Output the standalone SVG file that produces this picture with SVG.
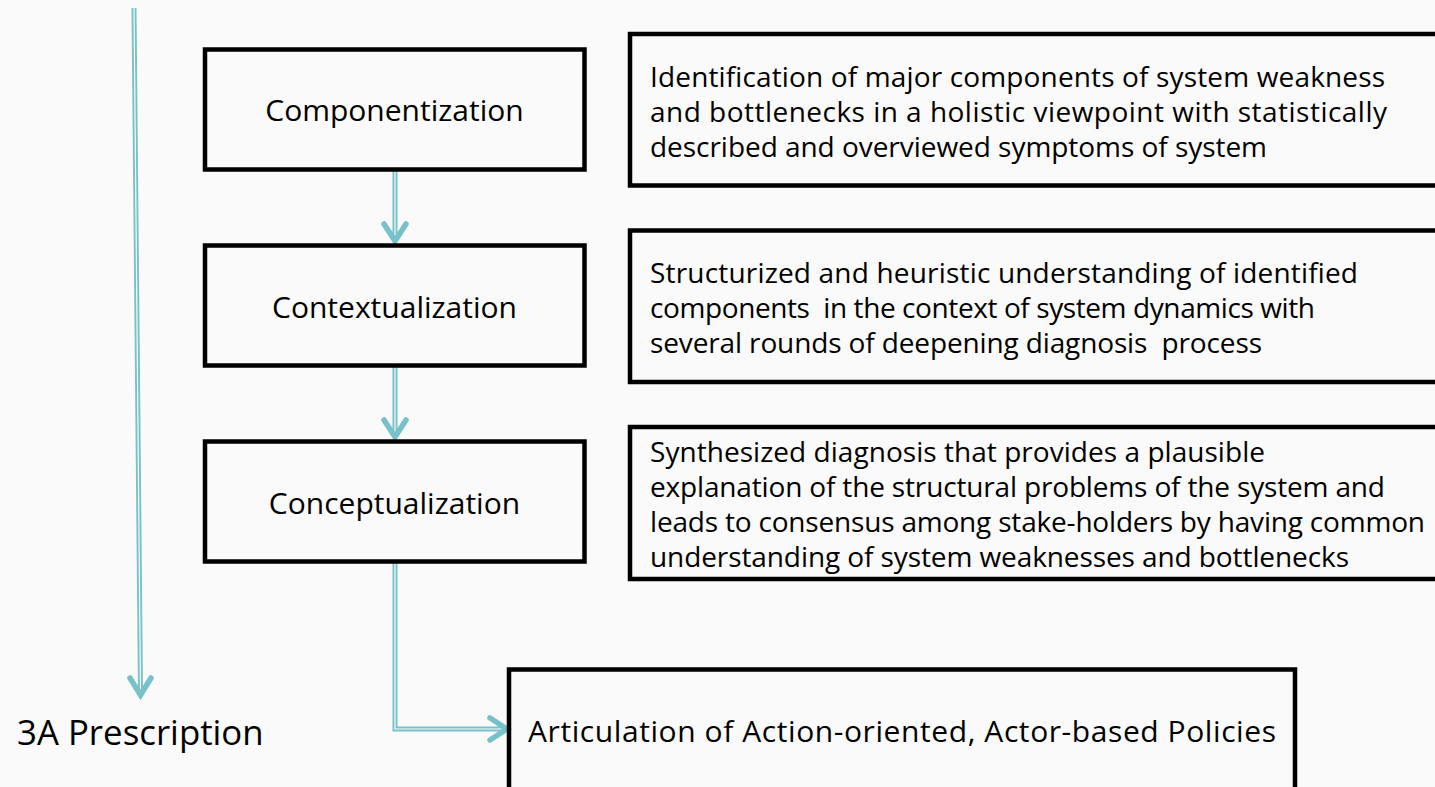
<svg xmlns="http://www.w3.org/2000/svg" width="1435" height="787" viewBox="0 0 1435 787">
  <style>
    .box { fill: none; stroke: #000; stroke-width: 4.5; }
    .step { font-family: "Open Sans", "DejaVu Sans", sans-serif; font-size: 30px; fill: #000; text-anchor: middle; }
    .desc { font-family: "Open Sans", "DejaVu Sans", sans-serif; font-size: 28px; fill: #000; }
    .outer { fill: none; stroke: #76C2C8; stroke-width: 5; }
    .inner { fill: none; stroke: #FAFAFA; stroke-width: 1.2; }
    .head { fill: none; stroke: #76C2C8; stroke-width: 5.5; stroke-linecap: round; stroke-linejoin: miter; }
  </style>
  <rect width="1435" height="787" fill="#FAFAFA"/>

  <g id="connectors">
    <!-- long vertical stage arrow -->
    <path class="outer" d="M134,8 L140.5,692"/>
    <path class="inner" d="M134,8 L140.5,692"/>
    <path class="head" d="M130,678 L140.5,695 L151,678"/>
    <!-- Componentization to Contextualization -->
    <path class="outer" d="M395,170 L395,240"/>
    <path class="inner" d="M395,170 L395,240"/>
    <path class="head" d="M384,224 L395,241 L406,224"/>
    <!-- Contextualization to Conceptualization -->
    <path class="outer" d="M395,366 L395,436"/>
    <path class="inner" d="M395,366 L395,436"/>
    <path class="head" d="M384,420 L395,437 L406,420"/>
    <!-- Conceptualization to Policies -->
    <path class="outer" d="M395,562 L395,729 L504,729"/>
    <path class="inner" d="M395,562 L395,729 L504,729"/>
    <path class="head" d="M490,718 L507,729 L490,740"/>
  </g>

  <g id="componentization">
    <rect class="box" x="205" y="49.5" width="379.5" height="120"/>
    <text class="step" x="394.5" y="121">Componentization</text>
  </g>
  <g id="contextualization">
    <rect class="box" x="205" y="245.5" width="379.5" height="120"/>
    <text class="step" x="394.5" y="318">Contextualization</text>
  </g>
  <g id="conceptualization">
    <rect class="box" x="205" y="441.5" width="379.5" height="120"/>
    <text class="step" x="394.5" y="514">Conceptualization</text>
  </g>

  <g id="desc-componentization">
    <rect class="box" x="630" y="34" width="820" height="151.5"/>
    <text class="desc" x="650" y="87" textLength="735" lengthAdjust="spacing">Identification of major components of system weakness</text>
    <text class="desc" x="650" y="122" textLength="737" lengthAdjust="spacing">and bottlenecks in a holistic viewpoint with statistically</text>
    <text class="desc" x="650" y="157" textLength="617" lengthAdjust="spacing">described and overviewed symptoms of system</text>
  </g>
  <g id="desc-contextualization">
    <rect class="box" x="630" y="230.5" width="820" height="151.5"/>
    <text class="desc" x="650" y="283" textLength="708" lengthAdjust="spacing">Structurized and heuristic understanding of identified</text>
    <text class="desc" x="650" y="318" textLength="665" lengthAdjust="spacing" xml:space="preserve">components  in the context of system dynamics with</text>
    <text class="desc" x="650" y="353" textLength="612" lengthAdjust="spacing" xml:space="preserve">several rounds of deepening diagnosis  process</text>
  </g>
  <g id="desc-conceptualization">
    <rect class="box" x="630" y="427" width="820" height="152"/>
    <text class="desc" x="650" y="462" textLength="615" lengthAdjust="spacing">Synthesized diagnosis that provides a plausible</text>
    <text class="desc" x="650" y="497" textLength="735" lengthAdjust="spacing">explanation of the structural problems of the system and</text>
    <text class="desc" x="650" y="532" textLength="775" lengthAdjust="spacing">leads to consensus among stake-holders by having common</text>
    <text class="desc" x="650" y="567" textLength="699" lengthAdjust="spacing">understanding of system weaknesses and bottlenecks</text>
  </g>

  <g id="prescription">
    <text x="17" y="745" font-family="Open Sans, DejaVu Sans, sans-serif" font-size="34.8" fill="#000">3A Prescription</text>
  </g>
  <g id="policies">
    <rect class="box" x="509" y="669.5" width="786" height="140"/>
    <text class="step" x="902" y="742" font-size="31.3" textLength="748" lengthAdjust="spacing">Articulation of Action-oriented, Actor-based Policies</text>
  </g>
</svg>
